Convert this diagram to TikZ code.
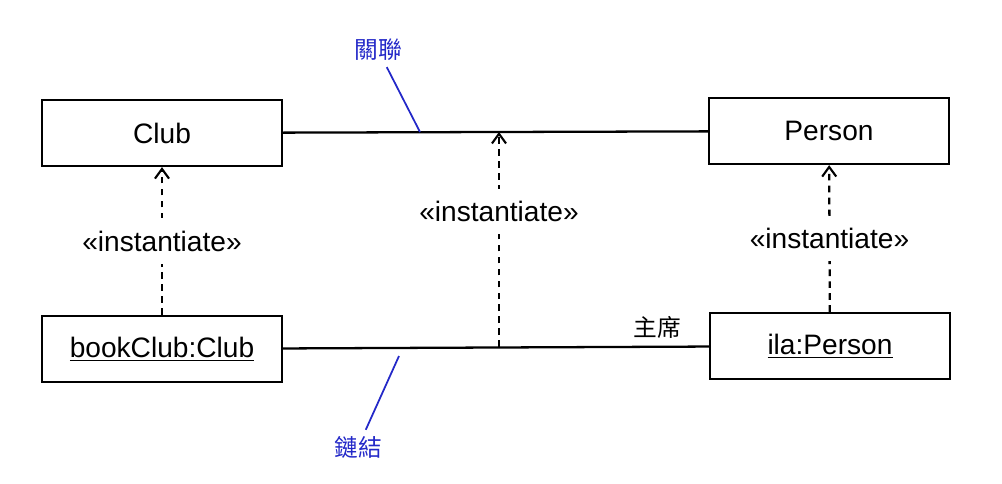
\documentclass[tikz,border=0pt]{standalone}
\usepackage{fontspec}
\setmainfont{Liberation Sans}
\newfontfamily\cjk{Noto Sans CJK TC}
\usepackage{xcolor}
\usepackage{tikz}
\usetikzlibrary{arrows.meta}
\definecolor{noteblue}{RGB}{35,40,200}

\begin{document}
\begin{tikzpicture}[x=0.02cm, y=-0.02cm,
		box/.style={draw, line width=1.3pt, minimum width=4.8cm, minimum height=1.32cm, inner sep=0pt, font=\fontsize{16}{19}\selectfont},
		dep/.style={line width=1.3pt, dash pattern=on 3.8pt off 3pt, -{Straight Barb[length=5.5pt,width=8pt,line width=1.2pt]}},
		stereo/.style={fill=white, font=\fontsize{16}{19}\selectfont, inner sep=7pt},
		note/.style={text=noteblue, font=\cjk\fontsize{13.5}{16}\selectfont}]
		\useasboundingbox (0,0) rectangle (1002,484);
		\node[box] (club) at (162,133) {Club};
		\node[box] (person) at (829,131) {Person};
		\node[box] (bookclub) at (162,349) {\underline{bookClub:Club}};
		\node[box] (ila) at (830,346) {\underline{ila:Person}};
		\draw[line width=1.3pt] (club) -- (person);
		\draw[line width=1.3pt] (bookclub) -- (ila);
		\node[font=\cjk\fontsize{13.5}{16}\selectfont] (chair) at (657,327) {主席};
		% instantiate dependencies
		\draw[dep] (bookclub) -- node[stereo] (stleft) {«instantiate»} (club);
		\draw[dep] (ila) -- node[stereo] (stright) {«instantiate»} (person);
		\coordinate (linkmid) at (499,347);
		\coordinate (assocmid) at (499,132);
		\draw[dep] (linkmid) -- node[stereo, pos=0.63] (stmid) {«instantiate»} (assocmid);
		% notes
		\node[note] (assocnote) at (378,50) {關聯};
		\coordinate (assocpt) at (420,132);
		\draw[noteblue, line width=1pt] (assocnote) -- (assocpt);
		\node[note] (linknote) at (358,447) {鏈結};
		\coordinate (linkpt) at (399,356);
		\draw[noteblue, line width=1pt] (linknote) -- (linkpt);
	\end{tikzpicture}
\end{document}
